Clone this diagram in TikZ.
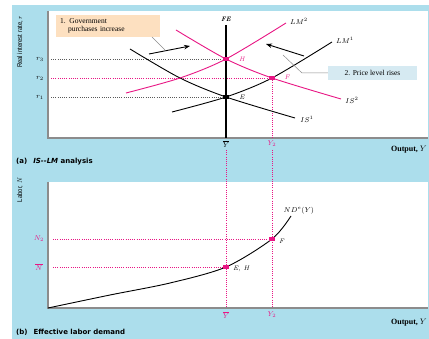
\documentclass[tikz,border=0pt]{standalone}
\usepackage{fontspec}
\newfontfamily\labf{DejaVu Sans}
\newfontfamily\narrowf{Liberation Sans}
\newfontfamily\boxf{Liberation Serif}
\usetikzlibrary{arrows.meta}
\definecolor{bgblue}{RGB}{172,222,236}
\definecolor{mag}{RGB}{232,22,132}
\definecolor{peach}{RGB}{253,224,192}
\definecolor{pale}{RGB}{214,234,242}
\definecolor{axgray}{RGB}{140,140,140}
\definecolor{dotgray}{RGB}{90,90,90}
\begin{document}
\begin{tikzpicture}[x=1pt,y=-1pt,
  curve/.style={line width=0.9pt},
  sq/.style={rectangle, minimum width=6pt, minimum height=4pt, inner sep=0pt},
  dotl/.style={line width=0.7pt, dash pattern=on 0.8pt off 1.4pt},
  lbl/.style={font=\fontsize{7}{8}\selectfont, inner sep=0.5pt},
  ptl/.style={font=\fontsize{6.5}{7}\selectfont\itshape, inner sep=1pt},
  note/.style={font=\boxf\fontsize{7.5}{8.5}\selectfont, align=left, inner sep=0pt},
  arr/.style={line width=0.9pt, -{Stealth[length=6pt,width=4.5pt]}},
  conn/.style={axgray, line width=0.5pt},
  panel/.style={font=\labf\bfseries\fontsize{7}{8}\selectfont, anchor=west, inner sep=0pt},
  axis/.style={font=\boxf\bfseries\fontsize{8}{9}\selectfont, anchor=east, inner sep=0pt},
  vlab/.style={font=\narrowf\fontsize{7}{8}\selectfont, rotate=90, xscale=0.85, inner sep=0pt}
]
\useasboundingbox (0,0) rectangle (429,339);
% backgrounds
\fill[bgblue] (12,5) rectangle (429,339);
\fill[white] (47,11) rectangle (428,138);
\fill[white] (47,182) rectangle (428,308);
\draw[axgray, line width=1.5pt] (48,11) -- (48,138) -- (428,138);
\draw[axgray, line width=1.5pt] (48,182) -- (48,308) -- (428,308);

% key points
\coordinate (H) at (226,59);
\coordinate (E) at (226,97);
\coordinate (F) at (272,78);
\coordinate (EH) at (226,267);
\coordinate (Fb) at (272,239);

% dotted guides panel a
\draw[dotl, dotgray] (51,59) -- (H);
\draw[dotl, mag] (51,78) -- (F);
\draw[dotl, dotgray] (51,97) -- (E);
\draw[dotl, mag] (F) -- (272,138);
\draw[dotl, mag] (226,150) -- (226,308);
\draw[dotl, mag] (272,150) -- (272,308);
% dotted guides panel b
\draw[dotl, mag] (53,239) -- (Fb);
\draw[dotl, mag] (53,267) -- (EH);

% FE line
\draw[line width=1.2pt] (226,25) -- (226,138);
\node[ptl, font=\fontsize{6.5}{7}\selectfont\itshape\bfseries] (fe) at (226,19) {FE};

% IS and LM curves
\draw[curve] plot[smooth] coordinates {(130,49) (180,78) (226,97) (295,118)};
\draw[curve, mag, shift={(46,-19)}] plot[smooth] coordinates {(130,49) (180,78) (226,97) (295,118)};
\draw[curve] plot[smooth] coordinates {(172,112) (226,97) (272,78) (332,42)};
\draw[curve, mag, shift={(-46,-19)}] plot[smooth] coordinates {(172,112) (226,97) (272,78) (332,42)};

\node[lbl] (lm2) at (299,21) {$LM^2$};
\node[lbl] (lm1) at (345,40) {$LM^1$};
\node[lbl] (is2) at (352,100) {$IS^2$};
\node[lbl] (is1) at (307,119) {$IS^1$};

% markers
\node[sq, fill=mag] (mH) at (H) {};
\node[sq, fill=mag] (mF) at (F) {};
\node[sq, fill=black] (mE) at (E) {};
\node[ptl, mag] (lH) at (242,59) {H};
\node[ptl, mag] (lF) at (287,77) {F};
\node[ptl] (lE) at (242,97) {E};

% r labels
\node[lbl] (r3) at (40,59) {$r_3$};
\node[lbl] (r2) at (40,78) {$r_2$};
\node[lbl] (r1) at (40,97) {$r_1$};

% Y labels panel a
\node[lbl] (ya) at (226,144) {$\overline{Y}$};
\node[lbl, mag] (y2a) at (272,144) {$Y_2$};

% annotations
\node[note, fill=peach, minimum width=104pt, minimum height=22pt, text width=96pt] (box1) at (108,26)
  {1. Government\\\hspace*{8pt}purchases increase};
\coordinate (a1s) at (149,54);
\coordinate (a1e) at (190,46);
\draw[arr] (a1s) -- (a1e);
\coordinate (c1) at (165,50);
\draw[conn] (152,37) -- (c1);

\node[note, fill=pale, minimum width=89pt, minimum height=14pt, align=center] (box2) at (372.5,73) {2. Price level rises};
\coordinate (a2s) at (304,56);
\coordinate (a2e) at (266,44);
\draw[arr] (a2s) -- (a2e);
\coordinate (c2) at (283,55);
\coordinate (c2b) at (302,73);
\draw[conn] (c2) -- (c2b) -- (box2.west);

% axis titles
\node[axis] (outa) at (427,150) {Output, $Y$};
\node[panel] (pa) at (16,162) {(a)\hspace{6pt}\textit{IS--LM} analysis};
\node[vlab] (ra) at (20,42) {Real interest rate, $r$};

% panel b
\draw[curve] plot[smooth] coordinates {(48,308) (110,295) (170,283) (226,267) (272,239) (291,216)};
\node[lbl, anchor=west] (nd) at (283,211) {$ND^{e}(Y)$};
\node[sq, fill=mag] (mEH) at (EH) {};
\node[sq, fill=mag] (mFb) at (Fb) {};
\node[ptl, anchor=west] (lEH) at (232,269) {E, H};
\node[ptl, anchor=west] (lFb) at (278,241) {F};
\node[lbl, mag] (n2) at (39,239) {$N_2$};
\node[lbl, mag] (nb) at (39,267) {$\overline{N}$};
\node[lbl, mag] (yb) at (226,315) {$\overline{Y}$};
\node[lbl, mag] (y2b) at (272,315) {$Y_2$};
\node[axis] (outb) at (427,323) {Output, $Y$};
\node[panel] (pb) at (16,332) {(b)\hspace{6pt}Effective labor demand};
\node[vlab] (la) at (20,190) {Labor, $N$};
\end{tikzpicture}
\end{document}
